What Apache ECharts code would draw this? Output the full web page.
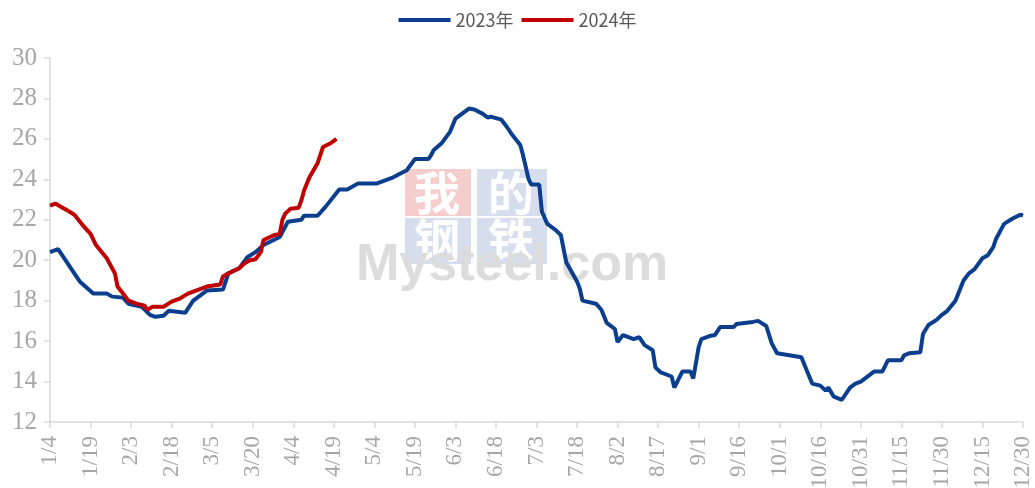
<!DOCTYPE html>
<html>
<head>
<meta charset="utf-8">
<script src="https://cdn.jsdelivr.net/npm/echarts@6/dist/echarts.min.js"></script>
<style>
  html, body { margin: 0; padding: 0; background: #fff; }
  #main { width: 1035px; height: 488px; }
</style>
</head>
<body>
<div id="main"></div>
<script>
// x categories: every day 1/4 .. 12/30
var categories = [];
for (var d = new Date(2023, 0, 4); d <= new Date(2023, 11, 30); d.setDate(d.getDate() + 1)) {
  categories.push((d.getMonth() + 1) + '/' + d.getDate());
}

var seriesNames = ['2023年', '2024年'];

var dates2023 = ['1/4','1/7','1/13','1/15','1/20','1/25','1/27','1/31','2/2','2/7','2/10','2/12','2/15','2/17','2/20','2/23','2/26',
  '3/1','3/3','3/9','3/11','3/15','3/18','3/21','3/24','3/30','4/2','4/7','4/8','4/13','4/16','4/21','4/24','4/28',
  '5/5','5/11','5/16','5/19','5/24','5/25','5/26','5/29','6/1','6/3','6/5','6/8','6/10','6/13','6/15','6/16','6/20','6/22','6/24','6/27','6/28','6/30',
  '7/1','7/4','7/5','7/7','7/10','7/12','7/14','7/18','7/19','7/20','7/25','7/27','7/29','8/1','8/2','8/4','8/8','8/10','8/12','8/15','8/16','8/18','8/22','8/23','8/26','8/29','8/30',
  '9/1','9/2','9/5','9/7','9/9','9/14','9/15','9/21','9/23','9/26','9/28','9/30','10/9','10/11','10/13','10/16','10/18','10/19','10/21','10/24','10/27','10/29','10/31',
  '11/5','11/8','11/10','11/15','11/16','11/18','11/22','11/23','11/25','11/28','11/30','12/2','12/5','12/8','12/10','12/12','12/15','12/17','12/19','12/20','12/23','12/26','12/29','12/30'];
var values2023 = [20.4,20.55,19.35,18.95,18.35,18.35,18.2,18.15,17.85,17.7,17.3,17.2,17.25,17.5,17.45,17.4,18.0,
  18.3,18.5,18.55,19.35,19.6,20.15,20.4,20.75,21.15,21.9,22.0,22.2,22.2,22.65,23.5,23.5,23.8,
  23.8,24.1,24.45,25.0,25.0,25.2,25.45,25.8,26.35,27.0,27.2,27.5,27.45,27.25,27.05,27.1,26.95,26.6,26.2,25.7,25.2,24.05,
  23.75,23.75,22.4,21.8,21.5,21.25,19.9,18.95,18.6,18.0,17.85,17.55,16.9,16.6,15.95,16.3,16.1,16.2,15.8,15.55,14.7,14.45,14.25,13.7,14.5,14.5,14.15,
  15.7,16.1,16.25,16.3,16.7,16.7,16.85,16.95,17.0,16.75,15.9,15.4,15.2,14.55,13.9,13.8,13.55,13.7,13.25,13.1,13.7,13.9,14.0,
  14.5,14.5,15.05,15.05,15.3,15.4,15.45,16.35,16.8,17.05,17.3,17.5,18.0,19.0,19.35,19.55,20.1,20.25,20.65,21.05,21.8,22.05,22.25,22.2];

var dates2024 = ['1/4','1/6','1/8','1/10','1/13','1/16','1/19','1/21','1/25','1/28','1/29','1/31','2/2','2/5','2/8','2/9','2/11','2/15','2/18','2/21','2/24','2/27',
  '3/3','3/8','3/9','3/11','3/15','3/17','3/19','3/21','3/23','3/24','3/28','3/30','3/31','4/1','4/3','4/6','4/7','4/8','4/10','4/13','4/14','4/15','4/18','4/20'];
var values2024 = [22.7,22.8,22.65,22.5,22.25,21.75,21.3,20.75,20.1,19.35,18.7,18.35,18.0,17.85,17.75,17.55,17.7,17.7,17.95,18.1,18.35,18.5,
  18.7,18.8,19.2,19.35,19.6,19.85,20.0,20.05,20.4,21.0,21.25,21.3,22.0,22.3,22.55,22.6,22.95,23.45,24.1,24.8,25.2,25.6,25.8,26.0];

function pairs(ds, vs) {
  return ds.map(function (d, i) { return [d, vs[i]]; });
}

var chart = echarts.init(document.getElementById('main'));
var serif = '"Liberation Serif", "DejaVu Serif", serif';

chart.setOption({
  animation: false,
  legend: {
    top: 6,
    left: 'center',
    icon: 'rect',
    itemWidth: 52,
    itemHeight: 4,
    itemGap: 8,
    textStyle: { fontSize: 18, color: '#595959', fontFamily: '"Liberation Sans Narrow", "Noto Sans CJK SC", sans-serif' },
    data: seriesNames
  },
  grid: { left: 50, right: 12, top: 58, bottom: 66, containLabel: false, outerBoundsMode: 'none' },
  // watermark
  graphic: [
    { type: 'rect', z: -10, shape: { x: 405, y: 169, width: 66, height: 47 }, style: { fill: '#f6cdcd' } },
    { type: 'rect', z: -10, shape: { x: 477, y: 169, width: 70, height: 47 }, style: { fill: '#d6deee' } },
    { type: 'rect', z: -10, shape: { x: 405, y: 218, width: 66, height: 46 }, style: { fill: '#d6deee' } },
    { type: 'rect', z: -10, shape: { x: 477, y: 218, width: 70, height: 46 }, style: { fill: '#d6deee' } },
    { type: 'text', z: -9, left: 414, top: 170, style: { text: '我', fill: '#fff', font: 'bold 46px "Noto Sans CJK SC"' } },
    { type: 'text', z: -9, left: 488, top: 170, style: { text: '的', fill: '#fff', font: 'bold 46px "Noto Sans CJK SC"' } },
    { type: 'text', z: -9, left: 414, top: 217, style: { text: '钢', fill: '#fff', font: 'bold 46px "Noto Sans CJK SC"' } },
    { type: 'text', z: -9, left: 488, top: 217, style: { text: '铁', fill: '#fff', font: 'bold 46px "Noto Sans CJK SC"' } },
    { type: 'text', z: -9, left: 356, top: 240, style: { text: 'Mysteel.com', fill: '#dcdcdc', font: 'bold 52px "Liberation Sans"' } }
  ],
  xAxis: {
    type: 'category',
    data: categories,
    boundaryGap: false,
    axisLine: { lineStyle: { color: '#d9d9d9', width: 1.5 } },
    axisTick: { show: true, interval: 14, length: 6, lineStyle: { color: '#d9d9d9', width: 1.5 } },
    axisLabel: { interval: 14, rotate: 90, margin: 14, fontSize: 23, color: '#a6a6a6', fontFamily: serif },
    splitLine: { show: false }
  },
  yAxis: {
    type: 'value',
    min: 12,
    max: 30,
    interval: 2,
    axisLine: { show: true, lineStyle: { color: '#d9d9d9', width: 1.5 } },
    axisTick: { show: true, length: 6, lineStyle: { color: '#d9d9d9', width: 1.5 } },
    axisLabel: { fontSize: 25, color: '#a6a6a6', fontFamily: serif, margin: 13 },
    splitLine: { show: false }
  },
  series: [
    {
      name: seriesNames[0],
      type: 'line',
      showSymbol: false,
      data: pairs(dates2023, values2023),
      lineStyle: { color: '#0b3f8d', width: 4 },
      itemStyle: { color: '#0b3f8d' },
      z: 3
    },
    {
      name: seriesNames[1],
      type: 'line',
      showSymbol: false,
      data: pairs(dates2024, values2024),
      lineStyle: { color: '#c00000', width: 4 },
      itemStyle: { color: '#c00000' },
      z: 4
    }
  ]
});
</script>
</body>
</html>
